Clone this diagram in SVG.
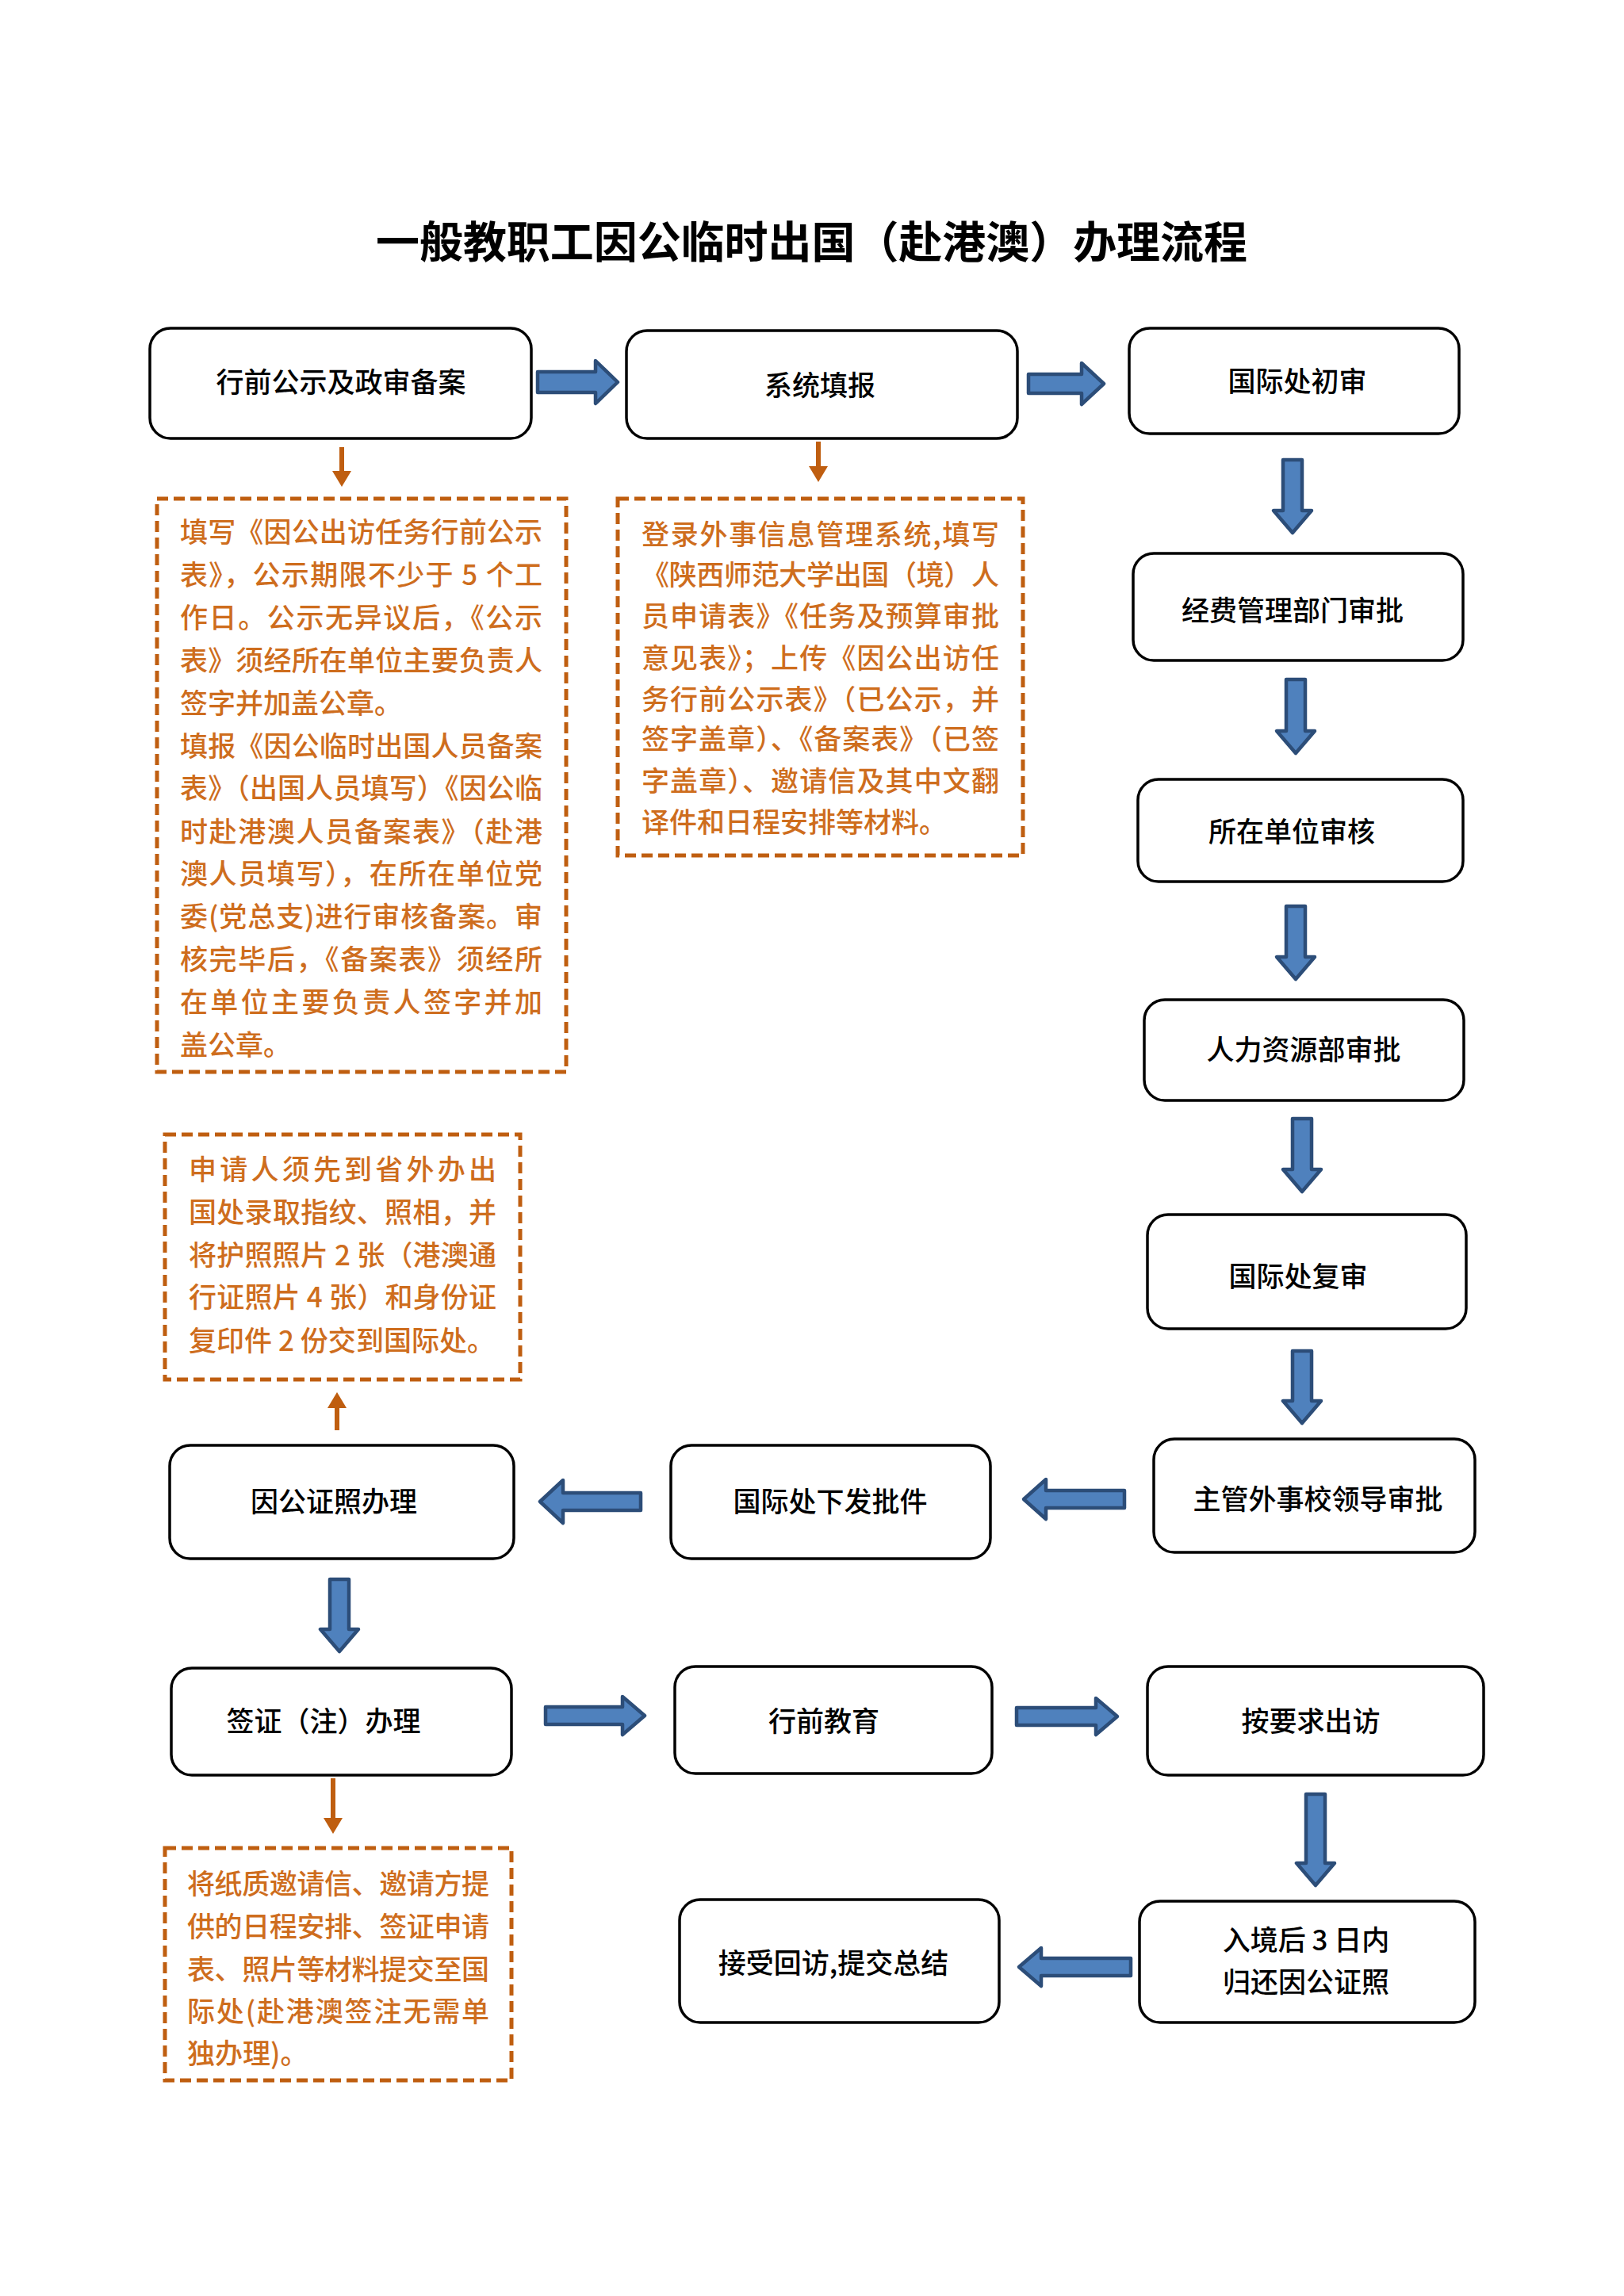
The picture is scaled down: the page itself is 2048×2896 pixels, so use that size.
<svg xmlns="http://www.w3.org/2000/svg" width="2048" height="2896" viewBox="0 0 2048 2896">
<style>
.node{fill:#fff;stroke:#000;stroke-width:3.5}
.lbl{font-family:"Noto Sans CJK SC","Noto Sans",sans-serif;font-size:35px;font-weight:500;fill:#000;text-anchor:middle}
.note{fill:none;stroke:#BF5E10;stroke-width:5;stroke-dasharray:14 7}
.nt{font-family:"Noto Sans CJK SC","Noto Sans",sans-serif;font-size:35px;font-weight:500;fill:#CE6D1D}
.blue{fill:#4F81BD;stroke:#2C4D78;stroke-width:4.5;stroke-linejoin:round}
.oline{stroke:#BF5E10;stroke-width:6}
.ohead{fill:#BF5E10}
.title{font-family:"Noto Sans CJK SC","Noto Sans",sans-serif;font-size:55px;font-weight:700;fill:#000}
</style>
<rect width="2048" height="2896" fill="#fff"/>
<text class="title" x="474" y="325" textLength="1099" lengthAdjust="spacing">一般教职工因公临时出国（赴港澳）办理流程</text>

<g id="connectors">
<path class="blue" d="M678,469 L751,469 L751,455 L779,482 L751,509 L751,495 L678,495 Z"/>
<path class="blue" d="M1297,472 L1364,472 L1364,458 L1392,484 L1364,510 L1364,496 L1297,496 Z"/>
<path class="blue" d="M688,2153 L785,2153 L785,2140 L813,2164 L785,2188 L785,2175 L688,2175 Z"/>
<path class="blue" d="M1282,2154 L1382,2154 L1382,2142 L1409,2165 L1382,2188 L1382,2176 L1282,2176 Z"/>
<path class="blue" d="M808,1883 L710,1883 L710,1867 L681,1894 L710,1921 L710,1905 L808,1905 Z"/>
<path class="blue" d="M1418,1880 L1319,1880 L1319,1866 L1291,1891 L1319,1916 L1319,1902 L1418,1902 Z"/>
<path class="blue" d="M1426,2470 L1313,2470 L1313,2457 L1285,2481 L1313,2505 L1313,2492 L1426,2492 Z"/>
<path class="blue" d="M1618,580 L1642,580 L1642,644 L1654,644 L1630,672 L1606,644 L1618,644 Z"/>
<path class="blue" d="M1622,857 L1646,857 L1646,922 L1658,922 L1634,950 L1610,922 L1622,922 Z"/>
<path class="blue" d="M1622,1143 L1646,1143 L1646,1207 L1658,1207 L1634,1235 L1610,1207 L1622,1207 Z"/>
<path class="blue" d="M1630,1411 L1654,1411 L1654,1475 L1666,1475 L1642,1503 L1618,1475 L1630,1475 Z"/>
<path class="blue" d="M1630,1704 L1654,1704 L1654,1767 L1666,1767 L1642,1795 L1618,1767 L1630,1767 Z"/>
<path class="blue" d="M416,1992 L440,1992 L440,2055 L452,2055 L428,2083 L404,2055 L416,2055 Z"/>
<path class="blue" d="M1647,2263 L1671,2263 L1671,2350 L1683,2350 L1659,2378 L1635,2350 L1647,2350 Z"/>
<line class="oline" x1="431" y1="564" x2="431" y2="596"/>
<polygon class="ohead" points="419,594 443,594 431,614"/>
<line class="oline" x1="1032" y1="557" x2="1032" y2="590"/>
<polygon class="ohead" points="1020,588 1044,588 1032,608"/>
<line class="oline" x1="425" y1="1804" x2="425" y2="1774"/>
<polygon class="ohead" points="413,1776 437,1776 425,1756"/>
<line class="oline" x1="420" y1="2243" x2="420" y2="2295"/>
<polygon class="ohead" points="408,2293 432,2293 420,2313"/>
</g>

<g id="n1"><rect class="node" x="189" y="414" width="481" height="139" rx="26"/><text class="lbl" x="430" y="495">行前公示及政审备案</text></g>
<g id="n2"><rect class="node" x="790" y="417" width="493" height="136" rx="26"/><text class="lbl" x="1034" y="499">系统填报</text></g>
<g id="n3"><rect class="node" x="1424" y="414" width="416" height="133" rx="26"/><text class="lbl" x="1636" y="494">国际处初审</text></g>
<g id="n4"><rect class="node" x="1429" y="698" width="416" height="135" rx="26"/><text class="lbl" x="1630" y="783">经费管理部门审批</text></g>
<g id="n5"><rect class="node" x="1435" y="983" width="410" height="129" rx="26"/><text class="lbl" x="1629" y="1062">所在单位审核</text></g>
<g id="n6"><rect class="node" x="1443" y="1261" width="403" height="127" rx="26"/><text class="lbl" x="1644" y="1337">人力资源部审批</text></g>
<g id="n7"><rect class="node" x="1447" y="1532" width="402" height="144" rx="26"/><text class="lbl" x="1637" y="1623">国际处复审</text></g>
<g id="n8"><rect class="node" x="1455" y="1815" width="405" height="143" rx="26"/><text class="lbl" x="1662" y="1904">主管外事校领导审批</text></g>
<g id="n9"><rect class="node" x="846" y="1823" width="403" height="143" rx="26"/><text class="lbl" x="1047" y="1907">国际处下发批件</text></g>
<g id="n10"><rect class="node" x="214" y="1823" width="434" height="143" rx="26"/><text class="lbl" x="421" y="1907">因公证照办理</text></g>
<g id="n11"><rect class="node" x="216" y="2104" width="429" height="135" rx="26"/><text class="lbl" x="408" y="2184">签证（注）办理</text></g>
<g id="n12"><rect class="node" x="851" y="2102" width="400" height="135" rx="26"/><text class="lbl" x="1039" y="2184">行前教育</text></g>
<g id="n13"><rect class="node" x="1447" y="2102" width="424" height="137" rx="26"/><text class="lbl" x="1653" y="2184">按要求出访</text></g>
<g id="n14"><rect class="node" x="1437" y="2398" width="423" height="153" rx="26"/><text class="lbl" x="1647" y="2460">入境后 3 日内</text><text class="lbl" x="1647" y="2513">归还因公证照</text></g>
<g id="n15"><rect class="node" x="857" y="2396" width="403" height="155" rx="26"/><text class="lbl" x="1051" y="2489">接受回访,提交总结</text></g>

<g id="note1">
<rect class="note" x="198" y="629" width="516" height="723"/>
<text class="nt" x="227" y="684" textLength="457" lengthAdjust="spacing">填写《因公出访任务行前公示</text>
<text class="nt" x="227" y="738" textLength="457" lengthAdjust="spacing">表》，公示期限不少于 5 个工</text>
<text class="nt" x="227" y="792" textLength="457" lengthAdjust="spacing">作日。公示无异议后，《公示</text>
<text class="nt" x="227" y="846" textLength="457" lengthAdjust="spacing">表》须经所在单位主要负责人</text>
<text class="nt" x="227" y="900">签字并加盖公章。</text>
<text class="nt" x="227" y="954" textLength="457" lengthAdjust="spacing">填报《因公临时出国人员备案</text>
<text class="nt" x="227" y="1007" textLength="457" lengthAdjust="spacing">表》（出国人员填写）《因公临</text>
<text class="nt" x="227" y="1062" textLength="457" lengthAdjust="spacing">时赴港澳人员备案表》（赴港</text>
<text class="nt" x="227" y="1115" textLength="457" lengthAdjust="spacing">澳人员填写），在所在单位党</text>
<text class="nt" x="227" y="1169" textLength="457" lengthAdjust="spacing">委(党总支)进行审核备案。审</text>
<text class="nt" x="227" y="1223" textLength="457" lengthAdjust="spacing">核完毕后，《备案表》须经所</text>
<text class="nt" x="227" y="1277" textLength="457" lengthAdjust="spacing">在单位主要负责人签字并加</text>
<text class="nt" x="227" y="1331">盖公章。</text>
</g>

<g id="note2">
<rect class="note" x="779" y="629" width="511" height="450"/>
<text class="nt" x="809" y="687" textLength="451" lengthAdjust="spacing">登录外事信息管理系统,填写</text>
<text class="nt" x="809" y="738" textLength="451" lengthAdjust="spacing">《陕西师范大学出国（境）人</text>
<text class="nt" x="809" y="790" textLength="451" lengthAdjust="spacing">员申请表》《任务及预算审批</text>
<text class="nt" x="809" y="843" textLength="451" lengthAdjust="spacing">意见表》；上传《因公出访任</text>
<text class="nt" x="809" y="895" textLength="451" lengthAdjust="spacing">务行前公示表》（已公示，并</text>
<text class="nt" x="809" y="945" textLength="451" lengthAdjust="spacing">签字盖章）、《备案表》（已签</text>
<text class="nt" x="809" y="998" textLength="451" lengthAdjust="spacing">字盖章）、邀请信及其中文翻</text>
<text class="nt" x="809" y="1050">译件和日程安排等材料。</text>
</g>

<g id="note3">
<rect class="note" x="208" y="1431" width="448" height="309"/>
<text class="nt" x="238" y="1488" textLength="388" lengthAdjust="spacing">申请人须先到省外办出</text>
<text class="nt" x="238" y="1542" textLength="388" lengthAdjust="spacing">国处录取指纹、照相，并</text>
<text class="nt" x="238" y="1596" textLength="388" lengthAdjust="spacing">将护照照片 2 张（港澳通</text>
<text class="nt" x="238" y="1649" textLength="388" lengthAdjust="spacing">行证照片 4 张）和身份证</text>
<text class="nt" x="238" y="1704" textLength="386" lengthAdjust="spacing">复印件 2 份交到国际处。</text>
</g>

<g id="note4">
<rect class="note" x="208" y="2331" width="437" height="293"/>
<text class="nt" x="236" y="2389" textLength="381" lengthAdjust="spacing">将纸质邀请信、邀请方提</text>
<text class="nt" x="236" y="2443" textLength="381" lengthAdjust="spacing">供的日程安排、签证申请</text>
<text class="nt" x="236" y="2497" textLength="381" lengthAdjust="spacing">表、照片等材料提交至国</text>
<text class="nt" x="236" y="2550" textLength="381" lengthAdjust="spacing">际处(赴港澳签注无需单</text>
<text class="nt" x="236" y="2603">独办理)。</text>
</g>
</svg>
